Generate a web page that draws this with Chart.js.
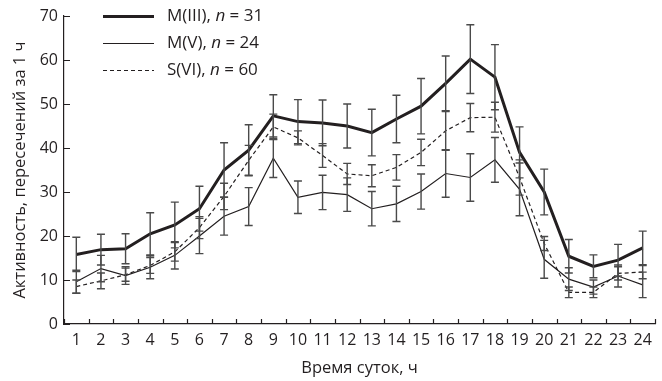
<!DOCTYPE html>
<html>
<head>
<meta charset="utf-8">
<script src="https://cdn.jsdelivr.net/npm/chart.js@4/dist/chart.umd.min.js"></script>
<style>
  html, body { margin: 0; padding: 0; background: #fff; }
  #wrap { width: 662px; height: 381px; position: relative; }
</style>
</head>
<body>
<div id="wrap"><canvas id="c" width="662" height="381"></canvas></div>
<script>
// ---- data ----
const hours = ['1','2','3','4','5','6','7','8','9','10','11','12','13','14','15','16','17','18','19','20','21','22','23','24'];

const m3Values = [15.8, 16.9, 17.1, 20.5, 22.5, 26.2, 35.0, 39.5, 47.3, 46.0, 45.7, 45.0, 43.5, 46.6, 49.5, 54.7, 60.2, 56.1, 39.0, 30.0, 15.4, 13.1, 14.5, 17.3];
const m3Errors = [3.9, 3.5, 3.4, 4.8, 5.2, 5.1, 6.2, 5.8, 4.8, 5.0, 5.2, 5.0, 5.3, 5.4, 6.3, 6.2, 7.8, 7.4, 5.8, 5.2, 3.8, 2.6, 3.6, 3.8];

const m5Values = [9.6, 12.6, 11.0, 12.9, 15.6, 20.0, 24.5, 26.7, 37.7, 28.8, 29.9, 29.4, 26.2, 27.3, 30.1, 34.2, 33.3, 37.3, 30.6, 14.7, 10.2, 8.4, 10.9, 8.9];
const m5Errors = [2.6, 3.0, 2.0, 2.6, 3.1, 4.0, 4.3, 4.3, 4.4, 3.7, 3.9, 3.8, 3.9, 4.0, 4.0, 5.4, 5.4, 5.1, 6.0, 4.3, 2.6, 1.6, 2.5, 2.9];

const s6Values = [8.5, 9.8, 11.2, 13.3, 16.4, 21.9, 29.0, 37.2, 44.8, 42.3, 38.3, 34.1, 33.7, 35.6, 39.0, 43.9, 46.9, 47.0, 33.3, 18.3, 7.2, 7.2, 11.5, 11.8];
const s6Errors = [1.5, 1.8, 1.5, 1.8, 2.1, 2.5, 3.0, 3.4, 2.9, 1.6, 2.7, 2.4, 2.5, 2.9, 3.0, 4.4, 3.2, 3.4, 4.0, 1.6, 1.2, 1.2, 1.5, 1.5];

const yTickLabels = ['0','10','20','30','40','50','60','70'];
const legendNames = ['M(III), ', 'M(V), ', 'S(VI), '];
const legendN = ['31', '24', '60'];
const xTitle = 'Время суток, ч';
const yTitle = 'Активность, пересечений за 1 ч';

const INK = '#231f20';
const BAR = '#4a4a4a';
const FONT = "'Open Sans', 'Noto Sans', sans-serif";

// error bars drawn through the chart's scales
const errorBarPlugin = {
  id: 'errorBars',
  afterDatasetsDraw(chart) {
    const ctx = chart.ctx;
    const xs = chart.scales.x, ys = chart.scales.y;
    ctx.save();
    ctx.strokeStyle = BAR;
    ctx.lineWidth = 1.4;
    chart.data.datasets.forEach(ds => {
      ds.values.forEach((v, i) => {
        const e = ds.errors[i];
        const x = xs.getPixelForValue(i);
        const yT = ys.getPixelForValue(v + e);
        const yB = ys.getPixelForValue(v - e);
        ctx.beginPath();
        ctx.moveTo(x, yT); ctx.lineTo(x, yB);
        ctx.moveTo(x - 4, yT); ctx.lineTo(x + 4, yT);
        ctx.moveTo(x - 4, yB); ctx.lineTo(x + 4, yB);
        ctx.stroke();
      });
    });
    ctx.restore();
  }
};

// inward tick marks
const innerTicksPlugin = {
  id: 'innerTicks',
  afterDraw(chart) {
    const ctx = chart.ctx;
    const xs = chart.scales.x, ys = chart.scales.y;
    const a = chart.chartArea;
    ctx.save();
    ctx.strokeStyle = INK;
    ctx.lineWidth = 1.2;
    ctx.beginPath();
    const n = chart.data.labels.length;
    for (let i = 0; i <= n; i++) {
      const x = Math.round((xs.getPixelForValue(i) + xs.getPixelForValue(i - 1)) / 2) + 0.5;
      ctx.moveTo(x, a.bottom); ctx.lineTo(x, a.bottom - 5);
    }
    ys.ticks.forEach(t => {
      const y = Math.round(ys.getPixelForValue(t.value)) + 0.5;
      ctx.moveTo(a.left, y); ctx.lineTo(a.left + 6, y);
    });
    ctx.stroke();
    ctx.restore();
  }
};

// legend with italic n
const legendPlugin = {
  id: 'customLegend',
  afterDraw(chart) {
    const ctx = chart.ctx;
    const a = chart.chartArea;
    const x0 = a.left + 39, x1 = a.left + 90, tx = a.left + 103;
    const rows = [a.top + 0, a.top + 27, a.top + 54];
    const size = 17;
    ctx.save();
    chart.data.datasets.forEach((ds, k) => {
      const y = Math.round(rows[k]) + 0.5;
      ctx.strokeStyle = INK;
      ctx.lineWidth = ds.borderWidth;
      ctx.setLineDash(ds.borderDash || []);
      ctx.beginPath(); ctx.moveTo(x0, y); ctx.lineTo(x1, y); ctx.stroke();
      ctx.setLineDash([]);
      ctx.fillStyle = INK;
      ctx.textBaseline = 'middle';
      ctx.font = size + 'px ' + FONT;
      let x = tx;
      ctx.fillText(legendNames[k], x, y);
      x += ctx.measureText(legendNames[k]).width;
      ctx.font = 'italic ' + size + 'px ' + FONT;
      ctx.fillText('n', x, y);
      x += ctx.measureText('n').width;
      ctx.font = size + 'px ' + FONT;
      const rest = ' = ' + legendN[k];
      ctx.fillText(rest, x, y);
    });
    ctx.restore();
  }
};

const mkDs = (label, values, errors, width, dash) => ({
  label, data: values, values, errors,
  borderColor: INK, borderWidth: width, borderDash: dash,
  pointRadius: 0, tension: 0, fill: false
});

new Chart(document.getElementById('c'), {
  type: 'line',
  data: {
    labels: hours,
    datasets: [
      mkDs('M(III), n = 31', m3Values, m3Errors, 3, []),
      mkDs('M(V), n = 24', m5Values, m5Errors, 1.2, []),
      mkDs('S(VI), n = 60', s6Values, s6Errors, 1.2, [4, 3])
    ]
  },
  plugins: [errorBarPlugin, innerTicksPlugin, legendPlugin],
  options: {
    responsive: false,
    animation: false,
    layout: { padding: { left: 0, top: 16, right: 7, bottom: 0 } },
    plugins: { legend: { display: false }, tooltip: { enabled: false } },
    scales: {
      x: {
        type: 'category',
        offset: true,
        grid: { display: false, drawTicks: false },
        border: { display: true, color: INK, width: 1.2 },
        ticks: { color: INK, font: { family: FONT, size: 16 }, padding: 7, maxRotation: 0, autoSkip: false },
        title: { display: true, text: xTitle, color: INK, font: { family: FONT, size: 16.5 }, padding: { top: 0, bottom: 3 } },
        afterFit(s) { s.height = 57; }
      },
      y: {
        min: 0, max: 70,
        grid: { display: false, drawTicks: false },
        border: { display: true, color: INK, width: 1.2 },
        ticks: { stepSize: 10, color: INK, font: { family: FONT, size: 16 }, padding: 6,
                 callback: (v, i) => yTickLabels[i] },
        title: { display: true, text: yTitle, color: INK, font: { family: FONT, size: 16.5 }, padding: { top: 10, bottom: 0 } },
        afterFit(s) { s.width = 64; }
      }
    }
  }
});
</script>
</body>
</html>
